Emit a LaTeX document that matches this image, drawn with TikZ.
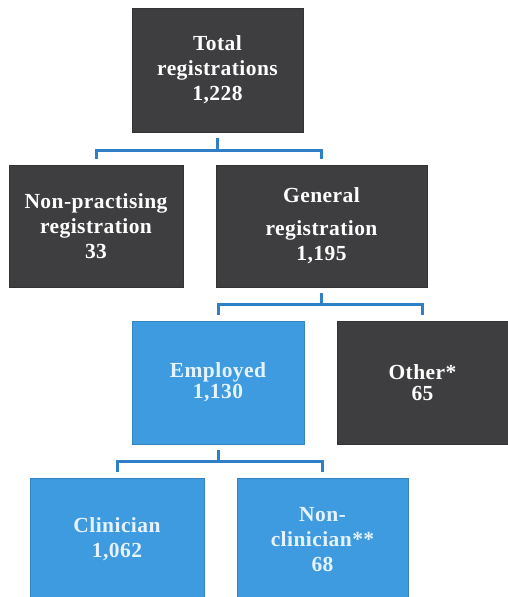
\documentclass[tikz,border=0pt]{standalone}
\usepackage{fontspec}
\setmainfont[LetterSpace=2]{Liberation Serif}
\usepackage{tikz}
\usetikzlibrary{calc}
\definecolor{boxgray}{HTML}{3E3E40}
\definecolor{boxblue}{HTML}{3F9BDF}
\definecolor{linkblue}{HTML}{2F7FC6}
\definecolor{textblue}{HTML}{E6F3FF}

\begin{document}
\begin{tikzpicture}[x=1pt,y=-1pt,
  darkbox/.style={draw=black!80,fill=boxgray,text=white,font=\bfseries\fontsize{21.5}{25}\selectfont,
    align=center,inner sep=0pt},
  bluebox/.style={draw=boxblue!85!black,fill=boxblue,text=textblue,font=\bfseries\fontsize{21.5}{25}\selectfont,
    align=center,inner sep=0pt},
  link/.style={linkblue,line width=3pt}]
  \useasboundingbox (0,0) rectangle (508,597);
  \fill[white] (0,0) rectangle (508,597);
  % boxes
  \node[darkbox,minimum width=171pt,minimum height=124pt] (total) at (217.5,70) {Total\\registrations\\1,228};
  \node[darkbox,minimum width=174pt,minimum height=122pt] (nonprac) at (96,226) {Non-practising\\registration\\33};
  \node[darkbox,minimum width=211pt,minimum height=122pt] (general) at (321.5,226) {General\\[8pt]registration\\1,195};
  \node[bluebox,minimum width=172pt,minimum height=123pt,font=\bfseries\fontsize{21.5}{21}\selectfont] (employed) at (218,382.5) {Employed\\1,130};
  \node[darkbox,minimum width=171pt,minimum height=123pt,font=\bfseries\fontsize{21.5}{21}\selectfont] (other) at (422.5,382.5) {Other*\\65};
  \node[bluebox,minimum width=174pt,minimum height=123pt] (clin) at (117,539.5) {Clinician\\1,062};
  \node[bluebox,minimum width=171pt,minimum height=123pt] (nonclin) at (322.5,539.5) {Non-\\clinician**\\68};
  % connectors
  \draw[link] ([yshift=-6pt]total.south) |- ($(total.south)!0.55!(nonprac.north)$) coordinate (j1) -| ([yshift=6pt]nonprac.north);
  \draw[link] (j1) -| ([yshift=6pt]general.north);
  \draw[link] ([yshift=-6pt]general.south) |- ($(general.south)!0.5!(employed.north)$) coordinate (j2) -| ([yshift=6pt]employed.north);
  \draw[link] (j2) -| ([yshift=6pt]other.north);
  \draw[link] ([yshift=-6pt]employed.south) |- ($(employed.south)!0.5!(clin.north)$) coordinate (j3) -| ([yshift=6pt]clin.north);
  \draw[link] (j3) -| ([yshift=6pt]nonclin.north);
\end{tikzpicture}
\end{document}
